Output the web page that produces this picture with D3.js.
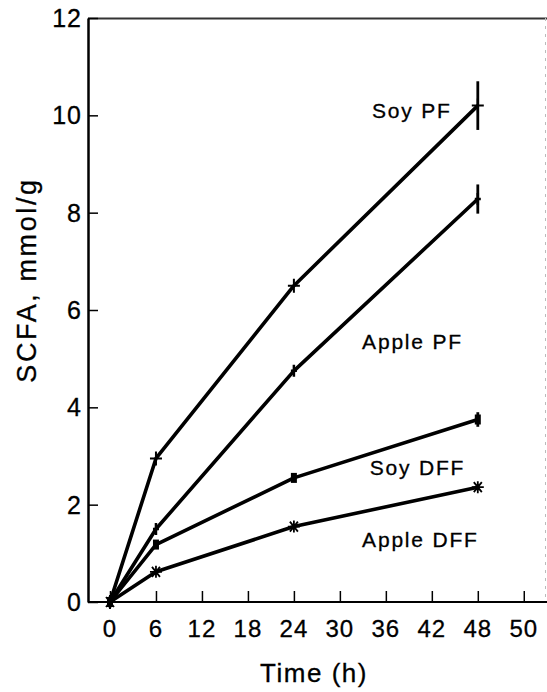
<!DOCTYPE html>
<html>
<head>
<meta charset="utf-8">
<script src="https://d3js.org/d3.v7.min.js"></script>
<style>
  body { margin: 0; background: #fff; }
  text { font-family: "Liberation Sans", Arial, sans-serif; fill: #000; stroke: #000; stroke-width: 0.3px; }
</style>
</head>
<body>
<div id="chart-area"></div>
<script>
// Data
const hours = [0, 6, 24, 48]
const soyPF = [0, 2.95, 6.5, 10.2]
const applePF = [0, 1.5, 4.75, 8.28]
const soyDFF = [0, 1.18, 2.55, 3.75]
const appleDFF = [0, 0.62, 1.55, 2.36]
// error at 48 h
const errors48 = [0.5, 0.3, 0.15, 0.06]
const seriesNames = ["Soy PF", "Apple PF", "Soy DFF", "Apple DFF"]
const markerTypes = ["plus", "bar", "box", "star"]

const xTickValues = [0, 6, 12, 18, 24, 30, 36, 42, 48, 54]
const xTickLabels = ["0", "6", "12", "18", "24", "30", "36", "42", "48", "50"]
const yTickValues = [0, 2, 4, 6, 8, 10, 12]

// label positions in data units (x hours, y mmol/g)
const labelPos = [[34.2, 9.95], [32.9, 5.2], [33.9, 2.6], [32.9, 1.13]]

const W = 547, H = 692

const svg = d3.select('#chart-area').append("svg")
	.attr("width", W)
	.attr("height", H)

const x = d3.scaleLinear()
	.domain([-2.87, 56.9])
	.range([88, 546])

const y = d3.scaleLinear()
	.domain([0, 12])
	.range([602, 18])

// frame: top and right
svg.append("line")
	.attr("x1", 88).attr("x2", 547).attr("y1", 18.5).attr("y2", 18.5)
	.attr("stroke", "#333").attr("stroke-width", 2)
svg.append("line")
	.attr("x1", 545.5).attr("x2", 545.5).attr("y1", 18).attr("y2", 602)
	.attr("stroke", "#bbb").attr("stroke-width", 1)
	.attr("stroke-dasharray", "3,5")

// x axis (ticks inward)
const xAxisCall = d3.axisTop(x)
	.tickValues(xTickValues)
	.tickFormat("")
	.tickSize(11)
	.tickSizeOuter(0)
const xAxis = svg.append("g")
	.attr("transform", `translate(0, ${y(0)})`)
	.call(xAxisCall)
xAxis.select(".domain").attr("stroke-width", 2).attr("d", `M88,0H547`)
xAxis.selectAll(".tick line").attr("stroke-width", 1.5)

svg.selectAll(".xlab")
	.data(xTickValues)
	.enter().append("text")
	.attr("class", "xlab")
	.attr("x", d => x(d))
	.attr("y", 637)
	.attr("text-anchor", "middle")
	.attr("font-size", "24px")
	.style("letter-spacing", "1px")
	.text((d, i) => xTickLabels[i])

// y axis (ticks inward)
const yAxisCall = d3.axisRight(y)
	.tickValues(yTickValues)
	.tickFormat("")
	.tickSize(10)
	.tickSizeOuter(0)
const yAxis = svg.append("g")
	.attr("transform", `translate(88, 0)`)
	.call(yAxisCall)
yAxis.select(".domain").attr("stroke-width", 2.5)
yAxis.selectAll(".tick line").attr("stroke-width", 1.5)

svg.selectAll(".ylab")
	.data(yTickValues)
	.enter().append("text")
	.attr("class", "ylab")
	.attr("x", 82)
	.attr("y", d => y(d) + 9)
	.attr("text-anchor", "end")
	.attr("font-size", "25px")
	.style("letter-spacing", "1px")
	.text(d => d)

// axis titles
svg.append("text")
	.attr("x", 314)
	.attr("y", 682)
	.attr("text-anchor", "middle")
	.attr("font-size", "26px")
	.style("letter-spacing", "1.5px")
	.text("Time (h)")

svg.append("text")
	.attr("transform", `translate(36, 280) rotate(-90)`)
	.attr("text-anchor", "middle")
	.attr("font-size", "27px")
	.style("letter-spacing", "2.6px")
	.text("SCFA, mmol/g")

// series
const allSeries = [soyPF, applePF, soyDFF, appleDFF]
const line = d3.line()
	.x((d, i) => x(hours[i]))
	.y(d => y(d))

allSeries.forEach((vals, s) => {
	const g = svg.append("g")

	g.append("path")
		.datum(vals)
		.attr("d", line)
		.attr("fill", "none")
		.attr("stroke", "#000")
		.attr("stroke-width", 3.6)
		.attr("stroke-linejoin", "round")

	// error bar at 48 h
	const e = errors48[s]
	g.append("line")
		.attr("x1", x(48)).attr("x2", x(48))
		.attr("y1", y(vals[3] + e)).attr("y2", y(vals[3] - e))
		.attr("stroke", "#000").attr("stroke-width", 2.8)

	// markers
	vals.forEach((v, i) => {
		const cx = x(hours[i]), cy = y(v)
		const m = g.append("g").attr("transform", `translate(${cx}, ${cy})`)
		const type = markerTypes[s]
		if (type === "plus") {
			m.append("path").attr("d", "M-6,0H6M0,-7V7")
				.attr("stroke", "#000").attr("stroke-width", 2)
		} else if (type === "bar") {
			m.append("path").attr("d", "M0,-6V6M-3,0H3")
				.attr("stroke", "#000").attr("stroke-width", 2.5)
		} else if (type === "box") {
			m.append("rect").attr("x", -3).attr("y", -5).attr("width", 6).attr("height", 10)
				.attr("fill", "#000")
		} else {
			m.append("path").attr("d", "M-6,0H6M-4,-5L4,5M-4,5L4,-5M0,-6V6")
				.attr("stroke", "#000").attr("stroke-width", 1.8)
		}
	})

	svg.append("text")
		.attr("x", x(labelPos[s][0]))
		.attr("y", y(labelPos[s][1]))
		.attr("font-size", "21px")
		.style("letter-spacing", "1.8px")
		.text(seriesNames[s])
})
</script>
</body>
</html>
